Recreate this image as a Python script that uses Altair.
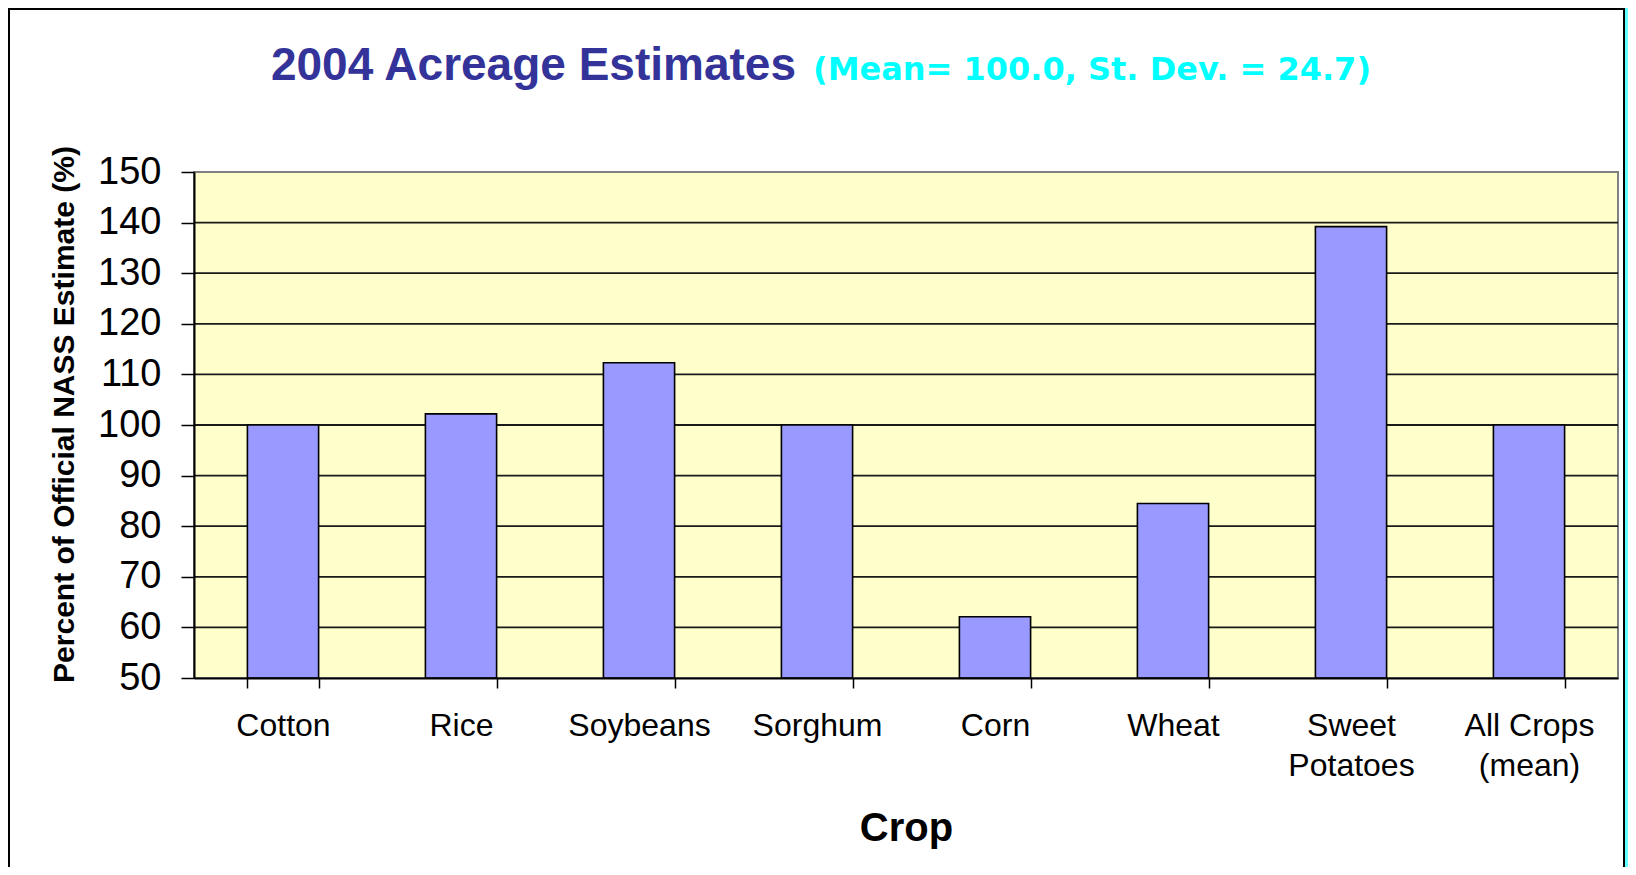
import altair as alt
import pandas as pd

# ---- data ----
crops = ["Cotton", "Rice", "Soybeans", "Sorghum", "Corn", "Wheat",
         "Sweet\nPotatoes", "All Crops\n(mean)"]
percent = [100.0, 102.2, 112.3, 100.0, 62.1, 84.5, 139.2, 100.0]
y_ticks = [50, 60, 70, 80, 90, 100, 110, 120, 130, 140, 150]
grid_values = [60, 70, 80, 90, 100, 110, 120, 130, 140]
baseline_value = [50]
title_text = ["2004 Acreage Estimates"]
subtitle_text = ["(Mean= 100.0, St. Dev. = 24.7)"]
x_title = "Crop"
y_title = "Percent of Official NASS Estimate (%)"

W, H = 1424, 506
FONT = "Liberation Sans"

bars_df = pd.DataFrame({"crop": crops, "percent": percent})
grid_df = pd.DataFrame({"percent": grid_values})
one = pd.DataFrame({"t": [0]})

y_enc = alt.Y(
    "percent:Q",
    scale=alt.Scale(domain=[y_ticks[0], y_ticks[-1]], nice=False, zero=False),
    axis=alt.Axis(
        values=y_ticks, title=y_title, grid=False, zindex=1,
        domainColor="black", domainWidth=2,
        tickColor="black", tickWidth=1.5, tickSize=13,
        labelFont=FONT, labelFontSize=38, labelColor="black", labelPadding=20,
        titleFont=FONT, titleFontSize=30, titleFontWeight="bold", titleColor="black",
        titleAngle=270, titleX=-121, titleY=242, titleAlign="center",
        titleBaseline="alphabetic",
    ),
)

frame = alt.Chart(one).mark_rect(
    fill="white", stroke="black", strokeWidth=2
).encode(x=alt.value(-185), x2=alt.value(W + 6), y=alt.value(-163), y2=alt.value(H + 200))

plot_bg = alt.Chart(one).mark_rect(
    fill="#FFFFCC", stroke="#808080", strokeWidth=2
).encode(x=alt.value(0), x2=alt.value(W), y=alt.value(0), y2=alt.value(H))

grid = alt.Chart(grid_df).mark_rule(color="#1a1a1a", strokeWidth=1.8).encode(y=y_enc)

bars = alt.Chart(bars_df).mark_bar(
    fill="#9999FF", stroke="black", strokeWidth=1.6
).encode(
    x=alt.X(
        "crop:N", sort=crops,
        scale=alt.Scale(paddingInner=0.6, paddingOuter=0.3),
        axis=alt.Axis(
            title=x_title, labelAngle=0, tickBand="extent", grid=False, zindex=1,
            domainColor="black", domainWidth=2,
            tickColor="black", tickWidth=1.5, tickSize=10,
            labelFont=FONT, labelFontSize=32, labelColor="black", labelPadding=22,
            labelBaseline="top", labelLineHeight=40, labelLimit=400, labelOverlap=False,
            labelExpr="split(datum.label, '\\n')",
            titleFont=FONT, titleFontSize=40, titleFontWeight="bold", titleColor="black",
            titleY=162, titleBaseline="alphabetic",
        ),
    ),
    y=y_enc,
    y2=alt.datum(baseline_value[0]),
)

title = alt.Chart(pd.DataFrame({"t": title_text})).mark_text(
    align="right", baseline="alphabetic", font=FONT, fontSize=46,
    fontWeight="bold", color="#333399"
).encode(x=alt.value(602), y=alt.value(-92), text="t:N")

subtitle = alt.Chart(pd.DataFrame({"t": subtitle_text})).mark_text(
    align="left", baseline="alphabetic", font="DejaVu Sans", fontSize=32,
    fontWeight="bold", color="#00FFFF"
).encode(x=alt.value(619), y=alt.value(-92), text="t:N")

chart = alt.layer(frame, plot_bg, grid, bars, title, subtitle).properties(
    width=W, height=H,
    autosize=alt.AutoSizeParams(type="none"),
    padding={"left": 186, "top": 164, "right": 10, "bottom": 189},
    background="#66FFFF",
).configure_view(strokeWidth=0)

chart.save("out.html", embed_options={"renderer": "svg", "actions": False})
